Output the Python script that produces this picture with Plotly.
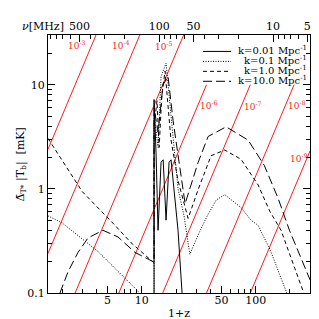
import math
import plotly.graph_objects as go

# ---------------- data (1+z, |T| in mK) ----------------
# k = 0.01 Mpc^-1 (solid)
zp_k001 = [12.81, 12.81, 13.34, 13.89, 14.76, 15.4, 16.33, 17.35, 18.07, 20.8, 23.5]
T_k001 = [0.05, 7.2, 2.2, 0.4, 1.8, 1.9, 0.5, 1.8, 1.9, 0.4, 0.05]

# k = 0.1 Mpc^-1 (dotted)
zp_k01 = [1.5, 2.0, 4.13, 9.27, 10.5, 12.81, 12.81, 13.89, 14.76, 16.33, 18.07, 20.8,
          23.5, 26.4, 31.2, 36.9, 45.0, 53.5, 74.5, 91.0, 105.0, 134.0, 185.0, 210.0]
T_k01 = [0.55, 0.47, 0.25, 0.104, 0.08, 0.06, 5.2, 2.5, 12.0, 16.1, 5.0, 1.0,
         0.55, 0.235, 0.36, 0.53, 0.78, 0.88, 0.66, 0.5, 0.446, 0.26, 0.104, 0.06]

# k = 1.0 Mpc^-1 (short dashed)
zp_k1 = [1.5, 3.0, 5.82, 8.04, 12.56, 12.81, 12.81, 13.6, 14.2, 15.0, 16.0, 17.0,
         18.0, 20.8, 25.5, 31.2, 40.6, 53.5, 74.5, 105.0, 133.0, 167.0, 261.0, 300.0]
T_k1 = [3.05, 0.94, 0.446, 0.304, 0.198, 0.198, 4.0, 7.0, 2.5, 8.0, 13.5, 6.0,
        3.0, 1.2, 0.52, 0.98, 2.08, 2.36, 1.92, 1.09, 0.61, 0.40, 0.104, 0.06]

# k = 10.0 Mpc^-1 (long dashed)
zp_k10 = [1.91, 2.25, 2.75, 3.37, 4.56, 6.18, 8.72, 11.34, 12.56, 12.81, 12.81, 13.89,
          15.37, 17.0, 18.82, 21.68, 24.0, 31.2, 38.2, 55.0, 85.8, 119.0, 157.5, 198.0, 301.0]
T_k10 = [0.1, 0.16, 0.245, 0.338, 0.40, 0.345, 0.245, 0.21, 0.198, 0.198, 6.0, 3.5,
         10.0, 12.0, 4.5, 1.5, 0.72, 1.79, 3.18, 3.94, 2.94, 1.68, 0.81, 0.40, 0.133]

legend_labels = ["k=0.01 Mpc<sup>-1</sup>", "k=0.1 Mpc<sup>-1</sup>",
                 "k=1.0 Mpc<sup>-1</sup>", "k=10.0 Mpc<sup>-1</sup>"]
dash_styles = ["solid", "1px,1.5px", "4px,3px", "9px,4px"]

# red reference lines: label, start (1+z, mK), end (1+z, mK)
ref_labels = ["10<sup>-3</sup>", "10<sup>-4</sup>", "10<sup>-5</sup>", "10<sup>-6</sup>",
              "10<sup>-7</sup>", "10<sup>-8</sup>", "10<sup>-9</sup>"]
ref_zp0 = [1.5, 1.5, 2.596, 6.29, 15.26, 37.0, 89.7]
ref_T0 = [2.40, 0.240, 0.1, 0.1, 0.1, 0.1, 0.1]
ref_zp1 = [3.96, 9.60, 23.3, 37.0, 89.7, 217.5, 300.0]
ref_T1 = [30.0, 30.0, 30.0, 10.0, 10.0, 10.0, 2.31]
ref_lab_zp = [2.70, 6.57, 15.7, 39.0, 94.9, 231.0, 241.0]
ref_lab_T = [24.2, 24.2, 23.5, 6.44, 6.3, 6.44, 1.99]

# axis ticks
x_tick_vals = [5, 10, 50, 100]
y_tick_vals = [0.1, 1, 10]
y_tick_text = ["0.1", "1", "10"]
nu_major = [500, 100, 50, 10, 5]
nu_minor = [900, 800, 700, 600, 400, 300, 200, 90, 80, 70, 60, 40, 30, 20, 9, 8, 7, 6]
NU21 = 1420.4
x_minor = [2, 3, 4, 6, 7, 8, 9, 20, 30, 40, 60, 70, 80, 90, 200, 300]
y_minor = [0.2, 0.3, 0.4, 0.5, 0.6, 0.7, 0.8, 0.9, 2, 3, 4, 5, 6, 7, 8, 9, 20, 30]

X_RANGE = [1.5, 300.0]
Y_RANGE = [0.1, 30.0]

# ---------------- figure ----------------
fig = go.Figure()
FONT = "DejaVu Serif, Liberation Serif, serif"
RED = "#ff1a1a"

for i in range(len(ref_labels)):
    fig.add_trace(go.Scatter(x=[ref_zp0[i], ref_zp1[i]], y=[ref_T0[i], ref_T1[i]],
                             mode="lines", line=dict(color=RED, width=1),
                             showlegend=False, hoverinfo="skip"))
    fig.add_annotation(x=math.log10(ref_lab_zp[i]), y=math.log10(ref_lab_T[i]),
                       text=ref_labels[i], showarrow=False,
                       font=dict(family=FONT, size=9, color=RED))

series = [(zp_k001, T_k001), (zp_k01, T_k01), (zp_k1, T_k1), (zp_k10, T_k10)]
for (zx, ty), dsh in zip(series, dash_styles):
    fig.add_trace(go.Scatter(x=zx, y=ty, mode="lines",
                             line=dict(color="black", width=1, dash=dsh),
                             showlegend=False, hoverinfo="skip"))

# dummy trace to activate the top axis
fig.add_trace(go.Scatter(x=X_RANGE, y=[1, 1], xaxis="x2", mode="lines",
                         line=dict(width=0), opacity=0, showlegend=False, hoverinfo="skip"))

# manual legend (compact spacing like the original)
W, H = 262.0, 267.0
for i, (lab, dsh) in enumerate(zip(legend_labels, dash_styles)):
    py = 35 + i * 10.3
    yp = (285 - py) / H
    fig.add_shape(type="line", xref="paper", yref="paper",
                  x0=(195 - 40) / W, x1=(223 - 40) / W, y0=yp, y1=yp,
                  line=dict(color="black", width=1, dash=dsh))
    fig.add_annotation(xref="paper", yref="paper", x=(301 - 40) / W, y=yp + 1.5 / H,
                       xanchor="right", yanchor="middle", text=lab, showarrow=False,
                       font=dict(family=FONT, size=10, color="black"))

axis_common = dict(type="log", showline=True, linecolor="black", linewidth=1,
                   ticks="inside", tickcolor="black", ticklen=7, showgrid=False,
                   zeroline=False, tickfont=dict(family=FONT, size=11, color="black"))

fig.update_layout(
    width=319, height=319, margin=dict(l=40, r=17, t=18, b=34),
    paper_bgcolor="white", plot_bgcolor="white", showlegend=False,
    xaxis=dict(**axis_common, range=[math.log10(X_RANGE[0]), math.log10(X_RANGE[1])],
               tickvals=x_tick_vals, ticktext=[str(v) for v in x_tick_vals], mirror=False,
               ticklabelstandoff=-3,
               minor=dict(tickvals=x_minor, ticklen=4, ticks="inside", tickcolor="black")),
    xaxis2=dict(**axis_common, overlaying="x", side="top", anchor="y",
                range=[math.log10(X_RANGE[0]), math.log10(X_RANGE[1])],
                tickvals=[NU21 / v for v in nu_major], ticktext=[str(v) for v in nu_major],
                minor=dict(tickvals=[NU21 / v for v in nu_minor], ticklen=4,
                           ticks="inside", tickcolor="black")),
    yaxis=dict(**axis_common, range=[math.log10(Y_RANGE[0]), math.log10(Y_RANGE[1])],
               tickvals=y_tick_vals, ticktext=y_tick_text, mirror="ticks",
               minor=dict(tickvals=y_minor, ticklen=4, ticks="inside", tickcolor="black")),
)

fig.add_annotation(xref="paper", yref="paper", x=(171 - 40) / W, y=(285 - 306) / H,
                   text="1+z", showarrow=False, xanchor="center", yanchor="middle",
                   font=dict(family=FONT, size=11, color="black"))
fig.add_annotation(xref="paper", yref="paper", x=(35 - 40) / W, y=(285 - 9) / H,
                   text="<i>ν</i>[MHz]", showarrow=False, xanchor="center", yanchor="middle",
                   font=dict(family=FONT, size=11, color="black"))
fig.add_annotation(xref="paper", yref="paper", x=(13 - 40) / W, y=(285 - 152) / H,
                   text="Δ̄<sub>T*</sub> |T<sub>b</sub>|  [mK]", showarrow=False,
                   textangle=-90, xanchor="center", yanchor="middle",
                   font=dict(family=FONT, size=11, color="black"))

fig.write_html("out.html")
